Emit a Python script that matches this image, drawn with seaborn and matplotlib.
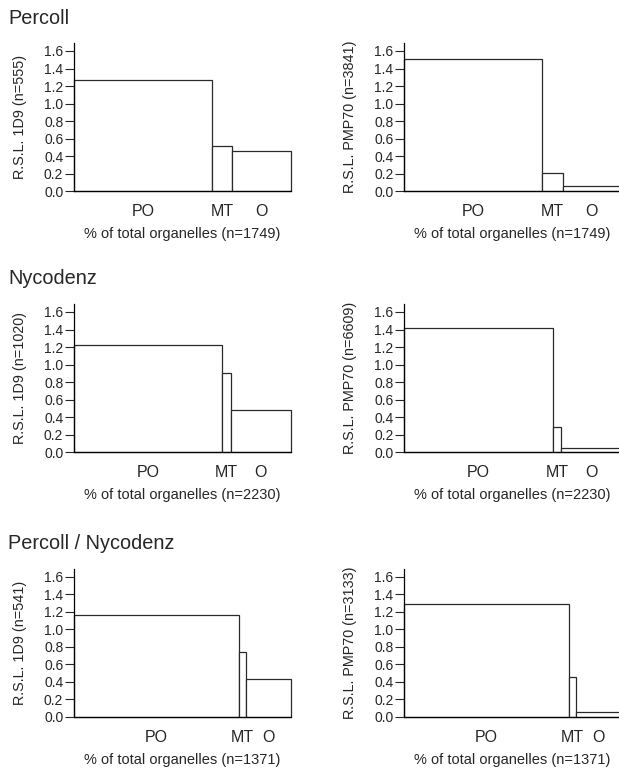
import numpy as np
import pandas as pd
import matplotlib
matplotlib.use("Agg")
import matplotlib.pyplot as plt
import seaborn as sns

# percent of total organelles (bar widths), order PO, MT, O
compartments = ["PO", "MT", "O"]
pct_percoll = [63.7, 9.4, 26.9]
pct_nycodenz = [68.5, 4.0, 27.5]
pct_perc_nyco = [76.0, 3.4, 20.6]

# relative specific labelling (bar heights)
rsl_1d9_percoll = [1.27, 0.52, 0.46]
rsl_pmp70_percoll = [1.51, 0.21, 0.06]
rsl_1d9_nycodenz = [1.22, 0.90, 0.48]
rsl_pmp70_nycodenz = [1.42, 0.29, 0.05]
rsl_1d9_perc_nyco = [1.16, 0.74, 0.43]
rsl_pmp70_perc_nyco = [1.29, 0.46, 0.06]

gradients = ["Percoll", "Nycodenz", "Percoll / Nycodenz"]
n_organelles = [1749, 2230, 1371]
n_1d9 = [555, 1020, 541]
n_pmp70 = [3841, 6609, 3133]
yticks = [0.0, 0.2, 0.4, 0.6, 0.8, 1.0, 1.2, 1.4, 1.6]

sns.set_style("ticks")
plt.rcParams['font.family'] = ['Liberation Sans', 'DejaVu Sans']

fig = plt.figure(figsize=(6.19, 7.69), dpi=100)

W, H = 619.0, 769.0
col_left = [74.0, 404.3]
row_base = [191.3, 452.3, 717.0]
title_base = [24.0, 284.3, 549.3]
ax_w, ax_h = 216.7, 148.2

rows = [
    (pct_percoll, rsl_1d9_percoll, rsl_pmp70_percoll),
    (pct_nycodenz, rsl_1d9_nycodenz, rsl_pmp70_nycodenz),
    (pct_perc_nyco, rsl_1d9_perc_nyco, rsl_pmp70_perc_nyco),
]

for r, (pct, rsl_a, rsl_b) in enumerate(rows):
    fig.text(8 / W, 1 - title_base[r] / H, gradients[r], fontsize=14.3,
             va='baseline', ha='left')
    edges = np.concatenate([[0], np.cumsum(pct)])
    edges = edges / edges[-1] * 100
    centers = (edges[:-1] + edges[1:]) / 2
    labels = [f"R.S.L. 1D9 (n={n_1d9[r]})", f"R.S.L. PMP70 (n={n_pmp70[r]})"]
    for c, rsl in enumerate([rsl_a, rsl_b]):
        ax = fig.add_axes([col_left[c] / W, 1 - row_base[r] / H, ax_w / W, ax_h / H])
        df = pd.DataFrame({'center': centers, 'rsl': rsl})
        sns.histplot(data=df, x='center', weights='rsl', bins=list(edges),
                     stat="count", color="white", edgecolor="#2a2a2a",
                     linewidth=0.9, alpha=1, ax=ax)
        for p in ax.patches:
            p.set_clip_on(False)
        ax.set_xlim(0, 100)
        ax.set_ylim(0, 1.69)
        ax.set_yticks(yticks)
        ax.set_yticklabels([f"{t:.1f}" for t in yticks])
        ax.set_xticks(centers)
        ax.set_xticklabels(compartments)
        ax.tick_params(axis='x', length=0, pad=9.5, labelsize=11.5)
        ax.tick_params(axis='y', length=6.5, width=0.8, pad=1.2, labelsize=10,
                       direction='out')
        ax.set_ylabel(labels[c], fontsize=10.4, labelpad=12.5)
        ax.set_xlabel(f"% of total organelles (n={n_organelles[r]})",
                      fontsize=10.5, labelpad=5.5)
        sns.despine(ax=ax)
        for s in ['left', 'bottom']:
            ax.spines[s].set_linewidth(0.9)
            ax.spines[s].set_color('black')
        ax.grid(False)

fig.savefig("out.png", dpi=100)
